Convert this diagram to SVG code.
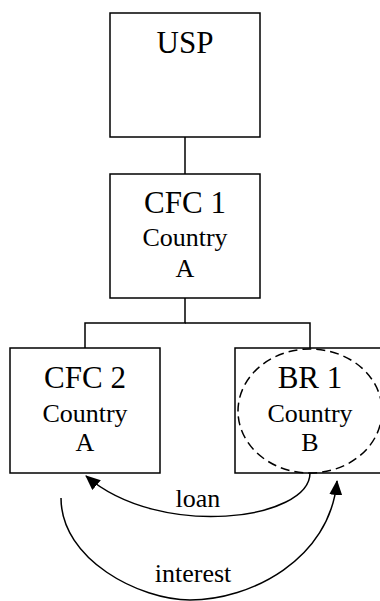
<svg xmlns="http://www.w3.org/2000/svg" width="380" height="601" viewBox="0 0 380 601">
<style>
.box{fill:#fff;stroke:#000;stroke-width:1.5}
.t{font-family:"Liberation Serif",serif;fill:#000;text-anchor:middle}
.big{font-size:31px}
.sm{font-size:26px}
.ln{fill:none;stroke:#000;stroke-width:1.5}
</style>
<defs>
<marker id="ah" viewBox="0 0 15 13" refX="14" refY="6.5" markerWidth="15" markerHeight="13" markerUnits="userSpaceOnUse" orient="auto">
<path d="M0,0 L15,6.5 L0,13 Z" fill="#000"/>
</marker>
</defs>
<g id="connectors">
<line class="ln" x1="185" y1="137" x2="185" y2="174"/>
<polyline class="ln" points="185,298 185,323 85,323 85,348"/>
<polyline class="ln" points="185,323 310,323 310,348"/>
<path class="ln" d="M310,473 C310,520 160,540 86,476" marker-end="url(#ah)"/>
<path class="ln" d="M61,498 C61,560 140,600 190,600 C250,600 330,560 337,481" marker-end="url(#ah)"/>
<text class="t sm" x="198" y="507">loan</text>
<text class="t sm" x="193" y="582">interest</text>
</g>
<g id="usp">
<rect class="box" x="110" y="13" width="150" height="124"/>
<text class="t big" x="185" y="53">USP</text>
</g>
<g id="cfc1">
<rect class="box" x="110" y="174" width="150" height="124"/>
<text class="t big" x="185" y="213">CFC 1</text>
<text class="t sm" x="185" y="246">Country</text>
<text class="t sm" x="185" y="277">A</text>
</g>
<g id="cfc2">
<rect class="box" x="10" y="348" width="150" height="125"/>
<text class="t big" x="85" y="388">CFC 2</text>
<text class="t sm" x="85" y="422">Country</text>
<text class="t sm" x="85" y="451">A</text>
</g>
<g id="br1">
<rect class="box" x="235" y="348" width="160" height="125"/>
<ellipse cx="310" cy="411" rx="72" ry="62" fill="none" stroke="#000" stroke-width="1.5" stroke-dasharray="9,5"/>
<text class="t big" x="310" y="388">BR 1</text>
<text class="t sm" x="310" y="422">Country</text>
<text class="t sm" x="310" y="451">B</text>
</g>
</svg>
